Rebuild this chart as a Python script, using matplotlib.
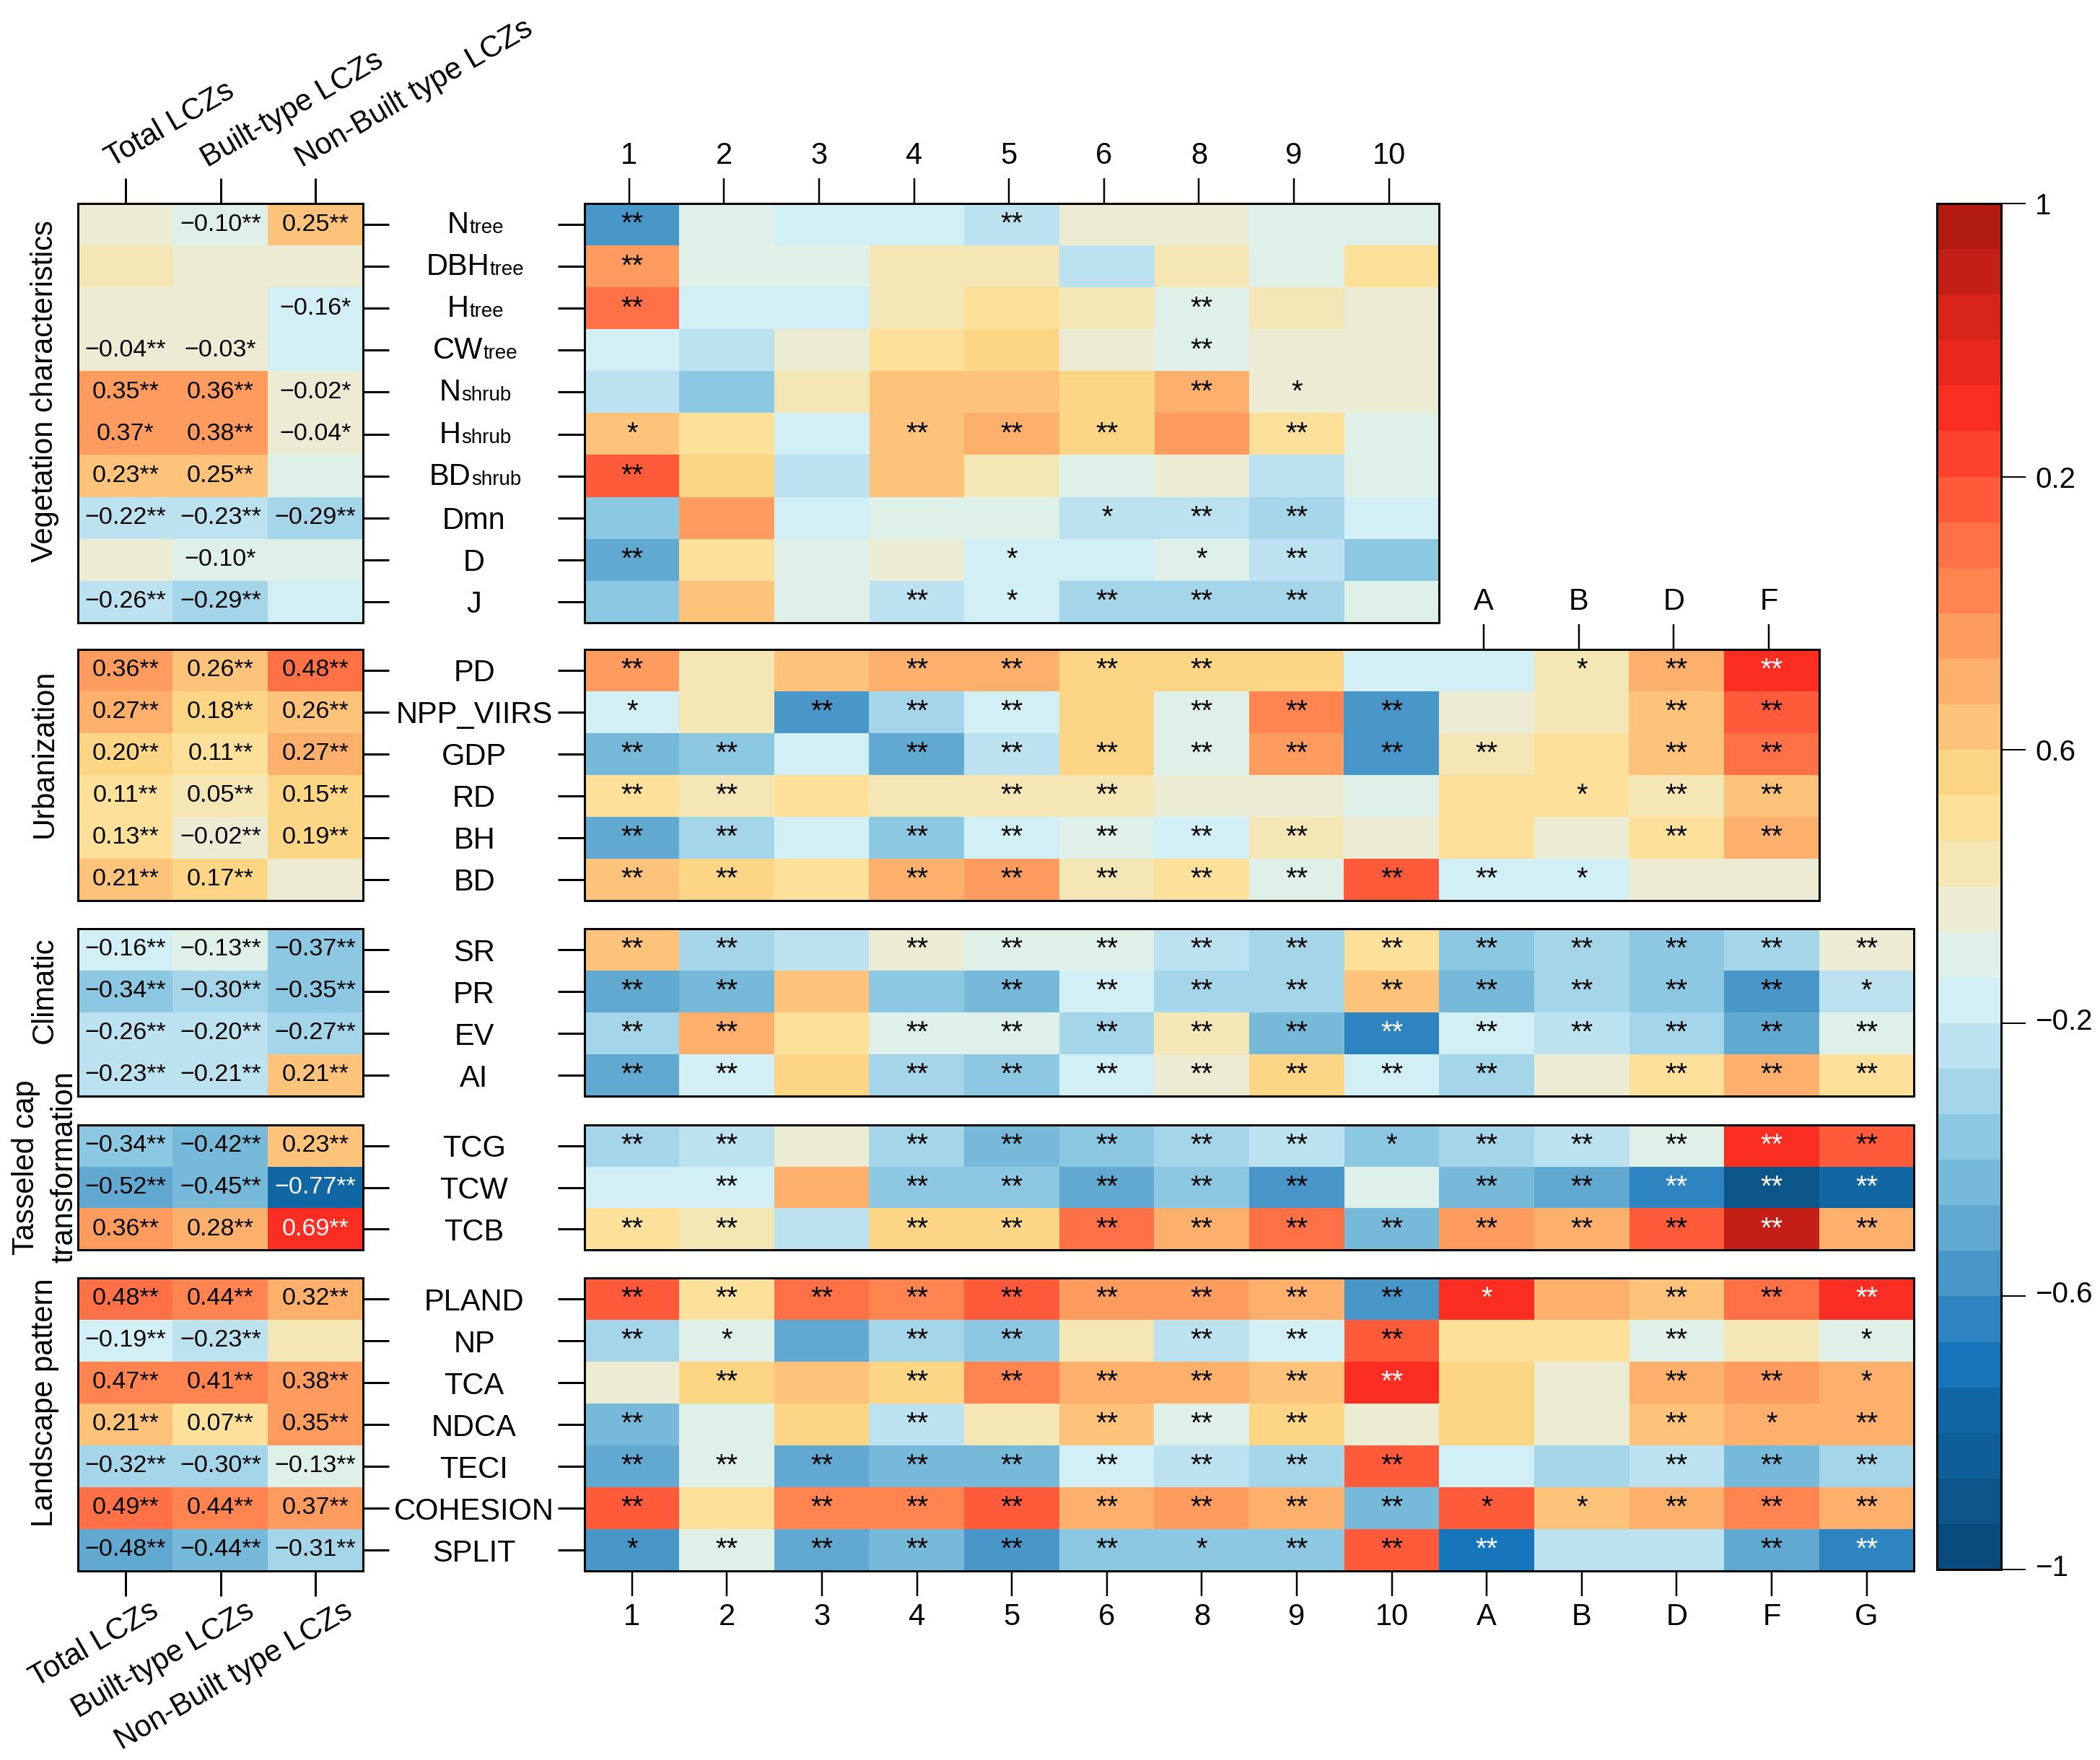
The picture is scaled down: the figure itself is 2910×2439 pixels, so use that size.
# correlation heatmaps of LCZ groups: left summary panels and right per-LCZ panels
import matplotlib
matplotlib.use('Agg')
import matplotlib.pyplot as plt
from matplotlib import cm
from matplotlib.colors import ListedColormap, BoundaryNorm
from matplotlib.transforms import IdentityTransform, ScaledTranslation
import numpy as np

plt.rcParams['font.family'] = ['Liberation Sans', 'DejaVu Sans']

# -----------------------------------------------------------------------------
# data: labels
lcz_built = ['1', '2', '3', '4', '5', '6', '8', '9', '10']
lcz_nature = ['A', 'B', 'D', 'F', 'G']
left_cols = ['Total LCZs', 'Built-type LCZs', 'Non-Built type LCZs']

veg_rows = ['N', 'DBH', 'H', 'CW', 'N', 'H', 'BD', 'Dmn', 'D', 'J']
veg_rows_sub = ['tree', 'tree', 'tree', 'tree', 'shrub', 'shrub', 'shrub', '', '', '']
urb_rows = ['PD', 'NPP_VIIRS', 'GDP', 'RD', 'BH', 'BD']
cli_rows = ['SR', 'PR', 'EV', 'AI']
tas_rows = ['TCG', 'TCW', 'TCB']
lan_rows = ['PLAND', 'NP', 'TCA', 'NDCA', 'TECI', 'COHESION', 'SPLIT']

# data: left panels, values and significance ('-' means no label in the cell)
veg_left = [[-0.03, -0.10, 0.25], [0.03, -0.03, -0.03], [-0.03, -0.03, -0.16],
            [-0.04, -0.03, -0.17], [0.35, 0.36, -0.02], [0.37, 0.38, -0.04],
            [0.23, 0.25, -0.10], [-0.22, -0.23, -0.29], [-0.03, -0.10, -0.10],
            [-0.26, -0.29, -0.17]]
veg_left_sig = ['- ** **', '- - -', '- - *', '** * -', '** ** *', '* ** *',
                '** ** -', '** ** **', '- * -', '** ** -']
urb_left = [[0.36, 0.26, 0.48], [0.27, 0.18, 0.26], [0.197, 0.11, 0.27],
            [0.11, 0.05, 0.15], [0.13, -0.02, 0.19], [0.21, 0.17, -0.03]]
urb_left_sig = ['** ** **', '** ** **', '** ** **', '** ** **', '** ** **', '** ** -']
cli_left = [[-0.16, -0.13, -0.37], [-0.34, -0.30, -0.35], [-0.26, -0.20, -0.27],
            [-0.23, -0.21, 0.21]]
cli_left_sig = ['** ** **', '** ** **', '** ** **', '** ** **']
tas_left = [[-0.34, -0.42, 0.23], [-0.52, -0.45, -0.77], [0.36, 0.28, 0.69]]
tas_left_sig = ['** ** **', '** ** **', '** ** **']
lan_left = [[0.48, 0.44, 0.32], [-0.19, -0.23, 0.03], [0.466, 0.41, 0.38],
            [0.21, 0.07, 0.35], [-0.32, -0.30, -0.13], [0.49, 0.44, 0.37],
            [-0.48, -0.44, -0.31]]
lan_left_sig = ['** ** **', '** ** -', '** ** **', '** ** **', '** ** **', '** ** **', '** ** **']

# data: right panels
veg_right = [[-0.57, -0.10, -0.17, -0.17, -0.23, -0.03, -0.03, -0.10, -0.10],
             [0.37, -0.10, -0.10, 0.03, 0.03, -0.23, 0.03, -0.10, 0.10],
             [0.50, -0.17, -0.17, 0.03, 0.10, 0.03, -0.10, 0.03, -0.03],
             [-0.17, -0.23, -0.03, 0.10, 0.17, -0.03, -0.10, -0.03, -0.03],
             [-0.23, -0.37, 0.03, 0.23, 0.23, 0.17, 0.30, -0.03, -0.03],
             [0.23, 0.10, -0.17, 0.23, 0.30, 0.17, 0.37, 0.10, -0.10],
             [0.57, 0.17, -0.23, 0.23, 0.03, -0.10, -0.03, -0.23, -0.10],
             [-0.37, 0.37, -0.17, -0.10, -0.10, -0.23, -0.23, -0.30, -0.17],
             [-0.50, 0.10, -0.10, -0.03, -0.17, -0.17, -0.10, -0.23, -0.37],
             [-0.37, 0.23, -0.10, -0.23, -0.17, -0.30, -0.30, -0.30, -0.10]]
veg_right_sig = ['** - - - ** - - - -', '** - - - - - - - -', '** - - - - - ** - -',
                 '- - - - - - ** - -', '- - - - - - ** * -', '* - - ** ** ** - ** -',
                 '** - - - - - - - -', '- - - - - * ** ** -', '** - - - * - * ** -',
                 '- - - ** * ** ** ** -']
urb_right = [[0.37, 0.03, 0.23, 0.30, 0.30, 0.17, 0.17, 0.17, -0.17, -0.17, 0.03, 0.30, 0.70],
             [-0.17, 0.03, -0.57, -0.30, -0.17, 0.17, -0.10, 0.43, -0.57, -0.03, 0.03, 0.23, 0.57],
             [-0.43, -0.37, -0.17, -0.50, -0.23, 0.17, -0.10, 0.37, -0.57, 0.03, 0.10, 0.23, 0.50],
             [0.10, 0.03, 0.10, 0.03, 0.03, 0.03, -0.03, -0.03, -0.10, 0.10, 0.10, 0.03, 0.23],
             [-0.50, -0.30, -0.17, -0.37, -0.17, -0.10, -0.17, 0.03, -0.03, 0.10, -0.03, 0.10, 0.30],
             [0.23, 0.17, 0.10, 0.30, 0.37, 0.03, 0.10, -0.10, 0.57, -0.17, -0.17, -0.03, -0.03]]
urb_right_sig = ['** - - ** ** ** ** - - - * ** **',
                 '* - ** ** ** - ** ** ** - - ** **',
                 '** ** - ** ** ** ** ** ** ** - ** **',
                 '** ** - - ** ** - - - - * ** **',
                 '** ** - ** ** ** ** ** - - - ** **',
                 '** ** - ** ** ** ** ** ** ** * - -']
cli_right = [[0.23, -0.30, -0.23, -0.03, -0.10, -0.10, -0.23, -0.30, 0.10, -0.37, -0.30, -0.37, -0.30, -0.03],
             [-0.50, -0.43, 0.23, -0.37, -0.43, -0.17, -0.30, -0.30, 0.23, -0.43, -0.30, -0.37, -0.57, -0.23],
             [-0.30, 0.30, 0.10, -0.10, -0.10, -0.30, 0.03, -0.43, -0.63, -0.17, -0.23, -0.30, -0.50, -0.10],
             [-0.50, -0.17, 0.17, -0.30, -0.37, -0.17, -0.03, 0.17, -0.17, -0.30, -0.03, 0.10, 0.30, 0.10]]
cli_right_sig = ['** ** - ** ** ** ** ** ** ** ** ** ** **',
                 '** ** - - ** ** ** ** ** ** ** ** ** *',
                 '** ** - ** ** ** ** ** ** ** ** ** ** **',
                 '** ** - ** ** ** ** ** ** ** - ** ** **']
tas_right = [[-0.30, -0.23, -0.03, -0.30, -0.43, -0.37, -0.30, -0.23, -0.37, -0.30, -0.23, -0.10, 0.70, 0.57],
             [-0.17, -0.17, 0.30, -0.37, -0.37, -0.50, -0.37, -0.57, -0.10, -0.43, -0.50, -0.63, -0.90, -0.77],
             [0.10, 0.03, -0.23, 0.17, 0.17, 0.50, 0.30, 0.50, -0.43, 0.37, 0.30, 0.57, 0.90, 0.30]]
tas_right_sig = ['** ** - ** ** ** ** ** * ** ** ** ** **',
                 '- ** - ** ** ** ** ** - ** ** ** ** **',
                 '** ** - ** ** ** ** ** ** ** ** ** ** **']
lan_right = [[0.57, 0.10, 0.50, 0.43, 0.57, 0.37, 0.37, 0.30, -0.57, 0.70, 0.30, 0.23, 0.50, 0.70],
             [-0.30, -0.10, -0.50, -0.30, -0.37, 0.03, -0.23, -0.17, 0.57, 0.10, 0.10, -0.10, 0.03, -0.10],
             [-0.03, 0.17, 0.23, 0.17, 0.43, 0.30, 0.30, 0.23, 0.70, 0.17, -0.03, 0.30, 0.37, 0.30],
             [-0.43, -0.10, 0.17, -0.23, 0.03, 0.23, -0.10, 0.17, -0.03, 0.17, -0.03, 0.23, 0.30, 0.30],
             [-0.50, -0.10, -0.50, -0.43, -0.43, -0.17, -0.23, -0.30, 0.57, -0.17, -0.30, -0.23, -0.43, -0.30],
             [0.57, 0.10, 0.43, 0.43, 0.57, 0.30, 0.37, 0.30, -0.43, 0.57, 0.23, 0.30, 0.43, 0.30],
             [-0.57, -0.10, -0.50, -0.43, -0.57, -0.37, -0.37, -0.37, 0.57, -0.70, -0.23, -0.23, -0.50, -0.63]]
lan_right_sig = ['** ** ** ** ** ** ** ** ** * - ** ** **',
                 '** * - ** ** - ** ** ** - - ** - *',
                 '- ** - ** ** ** ** ** ** - - ** ** *',
                 '** - - ** - ** ** ** - - - ** * **',
                 '** ** ** ** ** ** ** ** ** - - ** ** **',
                 '** - ** ** ** ** ** ** ** * * ** ** **',
                 '* ** ** ** ** ** * ** ** ** - - ** **']

# data: colour bins of the scale, bottom to top
bin_colors = ['#084A7B', '#0C5588', '#0E5F98', '#1067A4', '#1775BB', '#2E84C0', '#4996C8', '#61A9D1',
              '#76B9D9', '#8DC8E2', '#A5D5E8', '#BCE2F0', '#D2EFF6', '#DFF0E8', '#ECECD4', '#F5E6B6',
              '#FDE19A', '#FDD685', '#FDC37A', '#FDB06B', '#FE9B5E', '#FF844F', '#FE7146', '#FF5A3A',
              '#FE412D', '#FA2D23', '#E9281D', '#D92419', '#C31F16', '#B21B12']
cbar_ticks = [1, 0.6, 0.2, -0.2, -0.6, -1]
cbar_labels = ['1', '0.2', '0.6', '\u22120.2', '\u22120.6', '\u22121']

# -----------------------------------------------------------------------------
# figure and helpers, layout is given in pixels of the 2910x2439 picture
WW, HH = 2910, 2439
fig = plt.figure(figsize=(WW / 100, HH / 100), dpi=100)
cmap = ListedColormap(bin_colors)
norm = BoundaryNorm(np.linspace(-1, 1, 31), 30)
ptx = 72 / 100  # px to pt
top_shift = 0.03  # top ticks stand a little left of the cell centres


def add_axes_px(x0, y0, x1, y1):
    ax = fig.add_axes([x0 / WW, 1 - y1 / HH, (x1 - x0) / WW, (y1 - y0) / HH])
    for sp in ax.spines.values():
        sp.set_linewidth(3 * ptx)
    return ax


def split_sig(rows):
    return [['' if ss == '-' else ss for ss in rr.split()] for rr in rows]


def draw_left(y0, y1, vals, sig):
    ax = add_axes_px(108, y0, 503, y1)
    ax.imshow(np.array(vals), cmap=cmap, norm=norm, aspect='auto', interpolation='nearest')
    for i, (rvals, rsig) in enumerate(zip(vals, split_sig(sig))):
        for j, (vv, ss) in enumerate(zip(rvals, rsig)):
            if ss:
                txt = f'{vv:.2f}{ss}'.replace('-', '\u2212')
                ax.text(j, i, txt, ha='center', va='center', fontsize=24.5,
                        color='white' if abs(vv) > 0.6 else 'black')
    ax.set_xticks([])
    ax.yaxis.tick_right()
    ax.set_yticks(range(len(vals)), labels=[])
    ax.tick_params(axis='y', length=36 * ptx, width=3 * ptx)
    return ax


def draw_right(y0, y1, vals, sig, rows):
    ncol = len(vals[0])
    ax = add_axes_px(810, y0, 810 + ncol * 131.6, y1)
    ax.imshow(np.array(vals), cmap=cmap, norm=norm, aspect='auto', interpolation='nearest')
    for i, (rvals, rsig) in enumerate(zip(vals, split_sig(sig))):
        for j, (vv, ss) in enumerate(zip(rvals, rsig)):
            if ss:
                ax.text(j, i, ss, ha='center', va='center', fontsize=29,
                        color='white' if abs(vv) > 0.6 else 'black')
    ax.set_xticks([])
    ax.set_yticks(range(len(rows)), labels=rows, fontsize=30, ha='center')
    ax.tick_params(axis='y', length=37 * ptx, width=3 * ptx, pad=116 * ptx)
    return ax


# -----------------------------------------------------------------------------
# panels
rows_y = [(282, 863), (900, 1248), (1287, 1519), (1559, 1732), (1771, 2177)]

ax = draw_left(*rows_y[0], veg_left, veg_left_sig)
ax.xaxis.tick_top()
ax.set_xticks(range(3), labels=[])
ax.tick_params(axis='x', length=35 * ptx, width=3 * ptx)
draw_left(*rows_y[1], urb_left, urb_left_sig)
draw_left(*rows_y[2], cli_left, cli_left_sig)
draw_left(*rows_y[3], tas_left, tas_left_sig)
ax = draw_left(*rows_y[4], lan_left, lan_left_sig)
ax.set_xticks(range(3), labels=[])
ax.tick_params(axis='x', length=35 * ptx, width=3 * ptx)

ax_veg = draw_right(*rows_y[0], veg_right, veg_right_sig,
                    [rr if not ss else '' for rr, ss in zip(veg_rows, veg_rows_sub)])
ax_veg.xaxis.tick_top()
ax_veg.set_xticks(np.arange(9) - top_shift, labels=lcz_built, fontsize=30)
ax_veg.tick_params(axis='x', length=35 * ptx, width=2.5 * ptx, pad=11 * ptx)

ax = draw_right(*rows_y[1], urb_right, urb_right_sig, urb_rows)
ax.xaxis.tick_top()
ax.set_xticks(np.arange(9, 13) - top_shift, labels=lcz_nature[:4], fontsize=30)
ax.tick_params(axis='x', length=35 * ptx, width=2.5 * ptx, pad=11 * ptx)

draw_right(*rows_y[2], cli_right, cli_right_sig, cli_rows)
draw_right(*rows_y[3], tas_right, tas_right_sig, tas_rows)

ax = draw_right(*rows_y[4], lan_right, lan_right_sig, lan_rows)
ax.set_xticks(range(14), labels=lcz_built + lcz_nature, fontsize=30)
ax.tick_params(axis='x', length=35 * ptx, width=2.5 * ptx, pad=9 * ptx)

# row names with a small suffix on the same baseline, centred between the panels
renderer = fig.canvas.get_renderer()
for i, (rr, ss) in enumerate(zip(veg_rows, veg_rows_sub)):
    if not ss:
        continue
    ybase = ax_veg.transData.transform((0, i))[1] - 12
    tt1 = fig.text(0, ybase, rr, fontsize=30, va='baseline', ha='left', transform=IdentityTransform())
    tt2 = fig.text(0, ybase, ss, fontsize=20, va='baseline', ha='left', transform=IdentityTransform())
    ww1, ww2 = tt1.get_window_extent(renderer).width, tt2.get_window_extent(renderer).width
    tt1.set_x(658 - (ww1 + ww2) / 2)
    tt2.set_x(658 - (ww1 + ww2) / 2 + ww1 + 1)


# -----------------------------------------------------------------------------
# free text: rotated column names and group names
def text_px(xx, yy, ss, **kw):
    return fig.text(xx / WW, 1 - yy / HH, ss, fontsize=30, **kw)


for xx, ss in zip([155, 287, 419], left_cols):
    text_px(xx, 232, ss, rotation=30, ha='left', va='baseline', rotation_mode='anchor')
for xx, ss in zip([207, 339, 475], left_cols):
    text_px(xx, 2212, ss, rotation=30, ha='right', va='top', rotation_mode='anchor')

for yy, ss in zip([542, 1044, 1372, 1944],
                  ['Vegetation characteristics', 'Urbanization', 'Climatic', 'Landscape pattern']):
    text_px(62, yy, ss, rotation=90, ha='center', va='center')
text_px(36, 1618, 'Tasseled cap', rotation=90, ha='center', va='center')
text_px(89, 1617, 'transformation', rotation=90, ha='center', va='center')

# -----------------------------------------------------------------------------
# colour scale
cax = add_axes_px(2684, 282, 2773, 2175)
cbar = fig.colorbar(cm.ScalarMappable(norm=norm, cmap=cmap), cax=cax, spacing='proportional',
                    drawedges=False, ticks=cbar_ticks)
cbar.ax.set_yticklabels(cbar_labels, fontsize=29)
cbar.ax.minorticks_off()
cbar.ax.tick_params(length=34 * ptx, width=2 * ptx, pad=13 * ptx)
cbar.outline.set_linewidth(3 * ptx)
for lab, vv in zip(cbar.ax.get_yticklabels(), cbar_ticks):
    if vv < 0:  # negative labels sit a bit above their ticks
        lab.set_transform(lab.get_transform() + ScaledTranslation(0, 6 / 100, fig.dpi_scale_trans))

fig.savefig('out.png', dpi=100)
